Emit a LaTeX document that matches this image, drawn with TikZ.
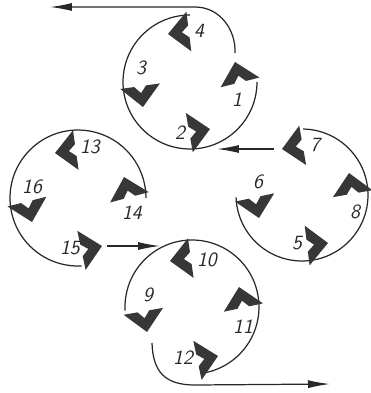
\documentclass[tikz,border=0pt]{standalone}
\usepackage{tikz}
\usetikzlibrary{arrows.meta,calc}
\definecolor{inkgray}{RGB}{40,40,40}
\definecolor{chevgray}{RGB}{55,55,55}

\begin{document}
\begin{tikzpicture}[
  x=0.02cm, y=-0.02cm,
  rim/.style={draw=inkgray, line width=0.7pt},
  arr/.style={-{Latex[length=4.4mm, width=1.6mm]}, draw=inkgray, line width=0.7pt},
  num/.style={font=\sffamily\itshape\fontsize{11.5}{11.5}\selectfont, text=inkgray, inner sep=0pt},
  chevron/.pic={\fill[chevgray] (0,0) -- (-21,20) -- (-21,6) -- (-14,0) -- (-21,-6) -- (-21,-20) -- cycle;}
]
  \useasboundingbox (0,0) rectangle (370,393);

  % --- Wheel centres ---
  \coordinate (cA) at (190,82);
  \coordinate (cB) at (78,198);
  \coordinate (cC) at (302,195);
  \coordinate (cD) at (192,307);

  % --- Wheel rims ---
  \draw[rim] ($(cA)+(90:1.34cm)$)  arc[start angle=90,  end angle=360, radius=1.34cm];
  \draw[rim] ($(cB)+(273:1.36cm)$) arc[start angle=273, end angle=0,   radius=1.36cm];
  \draw[rim] ($(cC)+(182:1.32cm)$) arc[start angle=182, end angle=449, radius=1.32cm];
  \draw[rim] ($(cD)+(-81:1.34cm)$) arc[start angle=-81, end angle=183, radius=1.34cm];

  % --- Top wheel ---
  \coordinate (v1) at (235,62);   \pic[rotate=104] at (v1) {chevron};
  \coordinate (v2) at (210,129);  \pic[rotate=10]  at (v2) {chevron};
  \coordinate (v3) at (143,107);  \pic[rotate=278] at (v3) {chevron};
  \coordinate (v4) at (168,34);   \pic[rotate=187] at (v4) {chevron};
  \node[num] (n1) at (237,100) {1};
  \node[num] (n2) at (180,133) {2};
  \node[num] (n3) at (141,68)  {3};
  \node[num] (n4) at (199,31)  {4};

  % --- Right wheel ---
  \coordinate (v5) at (328,243);  \pic[rotate=7]   at (v5) {chevron};
  \coordinate (v6) at (259,218);  \pic[rotate=282] at (v6) {chevron};
  \coordinate (v7) at (282,149);  \pic[rotate=190] at (v7) {chevron};
  \coordinate (v8) at (349,173);  \pic[rotate=100] at (v8) {chevron};
  \node[num] (n5) at (297,243) {5};
  \node[num] (n6) at (258,182) {6};
  \node[num] (n7) at (315,145) {7};
  \node[num] (n8) at (355,212) {8};

  % --- Bottom wheel ---
  \coordinate (v9)  at (147,332); \pic[rotate=280] at (v9)  {chevron};
  \coordinate (v10) at (170,261); \pic[rotate=188] at (v10) {chevron};
  \coordinate (v11) at (239,287); \pic[rotate=102] at (v11) {chevron};
  \coordinate (v12) at (218,356); \pic[rotate=12]  at (v12) {chevron};
  \node[num] (n9)  at (148,295) {9};
  \node[num] (n10) at (207,260) {10};
  \node[num] (n11) at (243,327) {11};
  \node[num] (n12) at (183,358) {12};

  % --- Left wheel ---
  \coordinate (v13) at (55,153);  \pic[rotate=188] at (v13) {chevron};
  \coordinate (v14) at (124,177); \pic[rotate=105] at (v14) {chevron};
  \coordinate (v15) at (102,246); \pic[rotate=12]  at (v15) {chevron};
  \coordinate (v16) at (32,222);  \pic[rotate=284] at (v16) {chevron};
  \node[num] (n13) at (90,147)  {13};
  \node[num] (n14) at (132,213) {14};
  \node[num] (n15) at (70,248)  {15};
  \node[num] (n16) at (32,187)  {16};

  % --- Transfer arrows ---
  \coordinate (inA)  at (217,149);
  \coordinate (inD)  at (160,246);
  \draw[arr, shorten <=1.6mm] (v7)  -- (inA);
  \draw[arr, shorten <=1mm]   (v15) -- (inD);

  % --- Exits ---
  \coordinate (outA) at (235,53);
  \coordinate (endA) at (50,7);
  \draw[arr] (outA) .. controls (236,30) and (220,7) .. (195,7) -- (endA);
  \coordinate (outD) at (152,343);
  \coordinate (endD) at (330,384);
  \draw[arr] (outD) .. controls (153,372) and (165,385) .. (195,385) -- (endD);
\end{tikzpicture}
\end{document}
